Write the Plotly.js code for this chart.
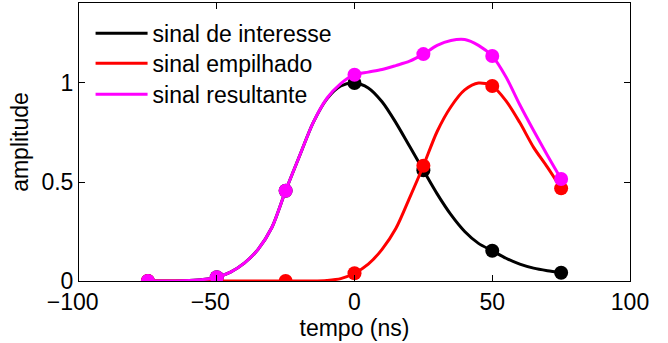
<!DOCTYPE html>
<html>
<head>
<meta charset="utf-8">
<script src="https://cdn.plot.ly/plotly-3.0.1.min.js"></script>
<style>html,body{margin:0;padding:0;background:#fff;}#plot{width:668px;height:343px;}</style>
</head>
<body>
<div id="plot"></div>
<script>
// sample instants (markers)
const tSamples = [-75, -50, -25, 0, 25, 50, 75];
const interesseSamples = [0, 0.019, 0.456, 1.0, 0.559, 0.153, 0.042];
const empilhadoSamples = [0, 0, 0, 0.039, 0.582, 0.985, 0.468];
const resultanteSamples = [0, 0.019, 0.456, 1.042, 1.146, 1.136, 0.515];

// continuous curves
const tCurve = [-75,-70,-65,-60,-55,-50,-45,-40,-35,-30,-25,-20,-15,-10,-5,0,5,10,15,20,25,30,35,40,45,50,55,60,65,70,75];
const interesseCurve = [0,0,0,0.002,0.007,0.019,0.045,0.09,0.16,0.27,0.456,0.63,0.80,0.92,0.985,1.0,0.975,0.905,0.80,0.68,0.559,0.44,0.335,0.25,0.19,0.153,0.115,0.085,0.065,0.052,0.042];
const empilhadoCurve = [0,0,0,0,0,0,0,0,0,0,0,0,0,0.003,0.012,0.039,0.085,0.16,0.265,0.42,0.582,0.755,0.88,0.965,1.0,0.985,0.91,0.80,0.675,0.575,0.468];
const resultanteCurve = [0,0,0,0.002,0.007,0.019,0.045,0.09,0.16,0.27,0.456,0.63,0.80,0.923,0.997,1.042,1.055,1.068,1.088,1.11,1.146,1.19,1.215,1.22,1.19,1.136,1.03,0.89,0.76,0.635,0.515];

const xTickVals = [-100, -50, 0, 50, 100];
const xTickText = ['\u2212100\u00a0\u00a0', '\u221250\u00a0\u00a0', '0', '50', '100'];
const yTickVals = [0, 0.5, 1];
const yTickText = ['0', '0.5', '1'];

const names = ['sinal de interesse', 'sinal empilhado', 'sinal resultante'];
const colors = ['#000000', '#ff0000', '#ff00ff'];
const curves = [interesseCurve, empilhadoCurve, resultanteCurve];
const samples = [interesseSamples, empilhadoSamples, resultanteSamples];
const legendIds = ['legend', 'legend2', 'legend3'];

const traces = [];
for (let i = 0; i < 3; i++) {
  traces.push({
    x: tCurve, y: curves[i], type: 'scatter', mode: 'lines',
    line: {color: colors[i], width: 3, shape: 'spline', smoothing: 0.8},
    name: names[i], showlegend: true, legend: legendIds[i], hoverinfo: 'skip'
  });
  traces.push({
    x: tSamples, y: samples[i], type: 'scatter', mode: 'markers',
    marker: {color: colors[i], size: 14},
    showlegend: false, hoverinfo: 'skip'
  });
}

const font = {family: '"Liberation Sans", Arial, Helvetica, sans-serif', size: 23, color: '#000'};
function leg(y) {
  return {x: 0.021, y: y, xanchor: 'left', yanchor: 'middle', bgcolor: 'rgba(0,0,0,0)', borderwidth: 0, itemwidth: 52, font: font};
}
const layout = {
  width: 668, height: 343,
  margin: {l: 79, r: 38, t: 3, b: 62},
  paper_bgcolor: '#fff', plot_bgcolor: '#fff',
  font: font,
  showlegend: true,
  legend: leg(0.891),
  legend2: leg(0.783),
  legend3: leg(0.672),
  xaxis: {
    range: [-100, 100], tickvals: xTickVals, ticktext: xTickText,
    ticks: 'inside', ticklen: 6, tickcolor: '#000', showline: true, linecolor: '#000', linewidth: 1, mirror: 'ticks',
    showgrid: false, zeroline: false, tickfont: font,
    title: {text: 'tempo (ns)', font: font, standoff: 2}
  },
  yaxis: {
    range: [0, 1.404], tickvals: yTickVals, ticktext: yTickText,
    ticks: 'inside', ticklen: 6, tickcolor: '#000', showline: true, linecolor: '#000', linewidth: 1, mirror: 'ticks',
    showgrid: false, zeroline: false, tickfont: font,
    title: {text: 'amplitude', font: font, standoff: 6}
  }
};
Plotly.newPlot('plot', traces, layout, {staticPlot: true, displayModeBar: false});
</script>
</body>
</html>
